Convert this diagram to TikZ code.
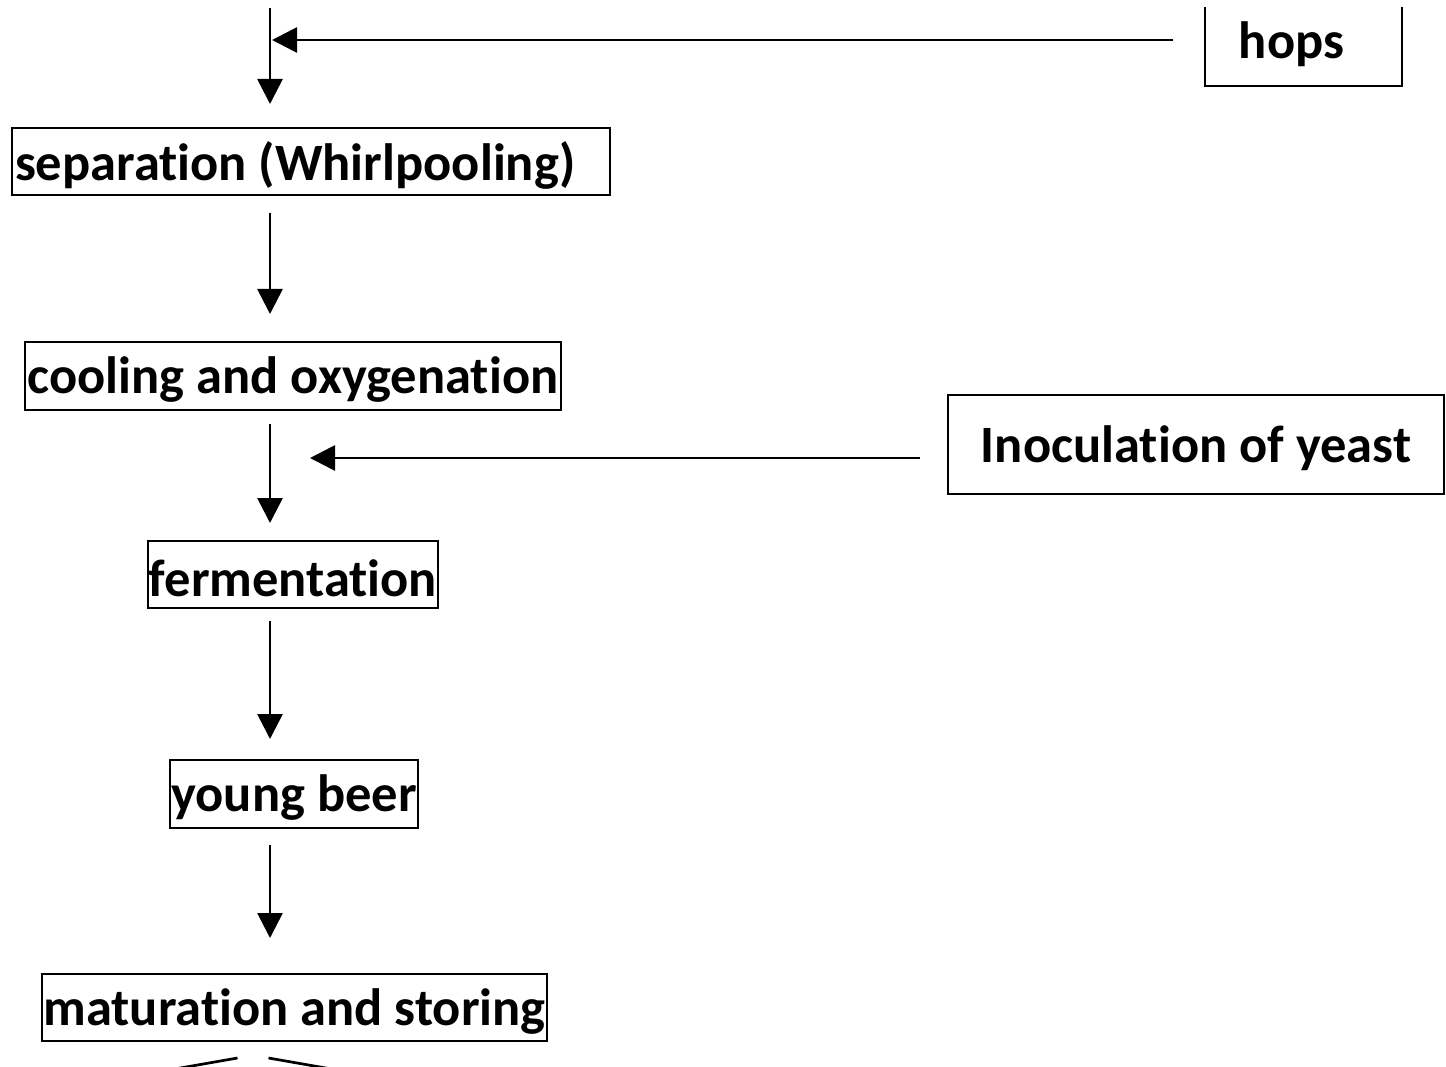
\documentclass[tikz,border=0pt]{standalone}
\usepackage{fontspec}
\setmainfont[RawFeature={-liga}]{Carlito}
\usetikzlibrary{arrows.meta}
\newcommand{\lowtxt}[1]{\raisebox{-4pt}[\height][\depth]{#1}}
\begin{document}
\begin{tikzpicture}[x=1pt,y=-1pt,
  box/.style={draw=black, line width=2.9pt, rectangle, inner sep=0pt, outer sep=0pt,
    font=\bfseries\fontsize{52.5}{60}\selectfont, anchor=center},
  arr/.style={line width=2.7pt, -{Triangle[length=25pt,width=25pt]}},
  plain/.style={line width=2.7pt}]
\useasboundingbox (0,0) rectangle (1446,1067);
\fill[white] (0,0) rectangle (1446,1067);
\begin{scope}
\clip (0,8) rectangle (1446,1067);
\node[box, minimum width=197pt, minimum height=92pt] (hops) at (1303.5,40) {\lowtxt{\hspace*{-24pt}hops}};
\node[box, minimum width=598pt, minimum height=67pt] (sep) at (311,161.5) {\lowtxt{\makebox[592pt][l]{separation (Whirlpooling)}}};
\node[box, minimum width=536pt, minimum height=68pt] (cool) at (293,376) {\lowtxt{cooling and oxygenation}};
\node[box, minimum width=496pt, minimum height=99pt] (yeast) at (1196,444.5) {\lowtxt{Inoculation of yeast}};
\node[box, minimum width=290pt, minimum height=67pt] (ferm) at (293,574.5) {\lowtxt{fermentation}};
\node[box, minimum width=248pt, minimum height=68pt] (young) at (294,794) {\lowtxt{young beer}};
\node[box, minimum width=505pt, minimum height=67pt] (mat) at (294.5,1007.5) {\lowtxt{maturation and storing}};

\coordinate (top) at (270,8);
\draw[arr] (top) -- ([yshift=24pt]top |- sep.north);
\draw[arr] ([xshift=-32pt]hops.west) -- ([xshift=2pt]top |- hops.west);
\draw[arr] ([yshift=-18pt]top |- sep.south) -- ([yshift=28pt]top |- cool.north);
\draw[arr] ([yshift=-14pt]top |- cool.south) -- ([yshift=18pt]top |- ferm.north);
\draw[arr] ([xshift=-28pt,yshift=-13.5pt]yeast.west) -- ([xshift=40pt,yshift=-13.5pt]top |- yeast.west);
\draw[arr] ([yshift=-13pt]top |- ferm.south) -- ([yshift=21pt]top |- young.north);
\draw[arr] ([yshift=-17pt]top |- young.south) -- ([yshift=36pt]top |- mat.north);
\draw[plain] ([xshift=-57pt,yshift=-17pt]mat.south) -- ++(-80,14);
\draw[plain] ([xshift=-26pt,yshift=-17pt]mat.south) -- ++(80,14);
\end{scope}
\end{tikzpicture}
\end{document}
